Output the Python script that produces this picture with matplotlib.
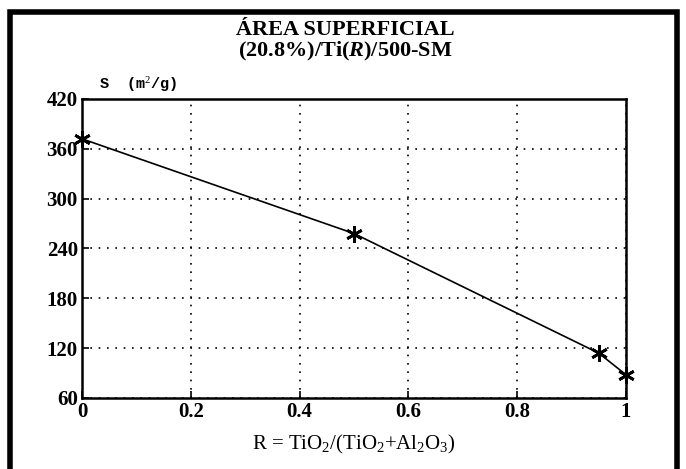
import matplotlib
matplotlib.use("Agg")
import matplotlib.pyplot as plt
from matplotlib.patches import Rectangle

# data
ratio = [0.0, 0.5, 0.95, 1.0]
area = [372, 258, 114, 88]
xticks = [0, 0.2, 0.4, 0.6, 0.8, 1]
xtick_labels = ["0", "0.2", "0.4", "0.6", "0.8", "1"]
yticks = [60, 120, 180, 240, 300, 360, 420]

plt.rcParams["font.family"] = ["Liberation Serif", "DejaVu Serif"]
plt.rcParams["mathtext.fontset"] = "custom"
plt.rcParams["mathtext.rm"] = "Liberation Serif"
plt.rcParams["mathtext.it"] = "Liberation Serif:italic:bold"
plt.rcParams["mathtext.bf"] = "Liberation Serif:bold"

fig = plt.figure(figsize=(6.86, 4.69), dpi=100)
ax = fig.add_axes([0.1195, 0.1514, 0.793, 0.6376])

ax.plot(ratio, area, color="black", lw=1.2, marker=(6, 2, 0), ms=12, mew=2.0,
        mec="black", clip_on=False, zorder=5)
ax.set_xlim(0, 1)
ax.set_ylim(60, 420)
ax.set_xticks(xticks, xtick_labels)
ax.set_yticks(yticks)
for lab in ax.get_xticklabels() + ax.get_yticklabels():
    lab.set_fontweight("bold")
    lab.set_fontsize(15)
ax.tick_params(direction="in", length=5, width=1.2, pad=3)
ax.grid(True, color="black", ls=(0, (1, 4)), lw=1.2)
for s in ax.spines.values():
    s.set_linewidth(1.8)

ax.set_xlabel(r"R = TiO$_2$/(TiO$_2$+Al$_2$O$_3$)", fontsize=15, labelpad=8)
fig.text(0.145, 0.81, r"S  (m$^2$/g)", fontsize=11, fontweight="bold",
         family="Liberation Mono")

fig.text(0.503, 0.925, "ÁREA SUPERFICIAL", ha="center", fontsize=16, fontweight="bold")
fig.text(0.503, 0.88, r"(20.8%)/Ti($\it{R}$)/500-SM", ha="center", fontsize=16,
         fontweight="bold")

# thick outer frame
fig.patches.append(Rectangle((0.015, -0.02), 0.972, 0.995, transform=fig.transFigure,
                             fill=False, lw=4, ec="black"))

fig.savefig("out.png", dpi=100)
